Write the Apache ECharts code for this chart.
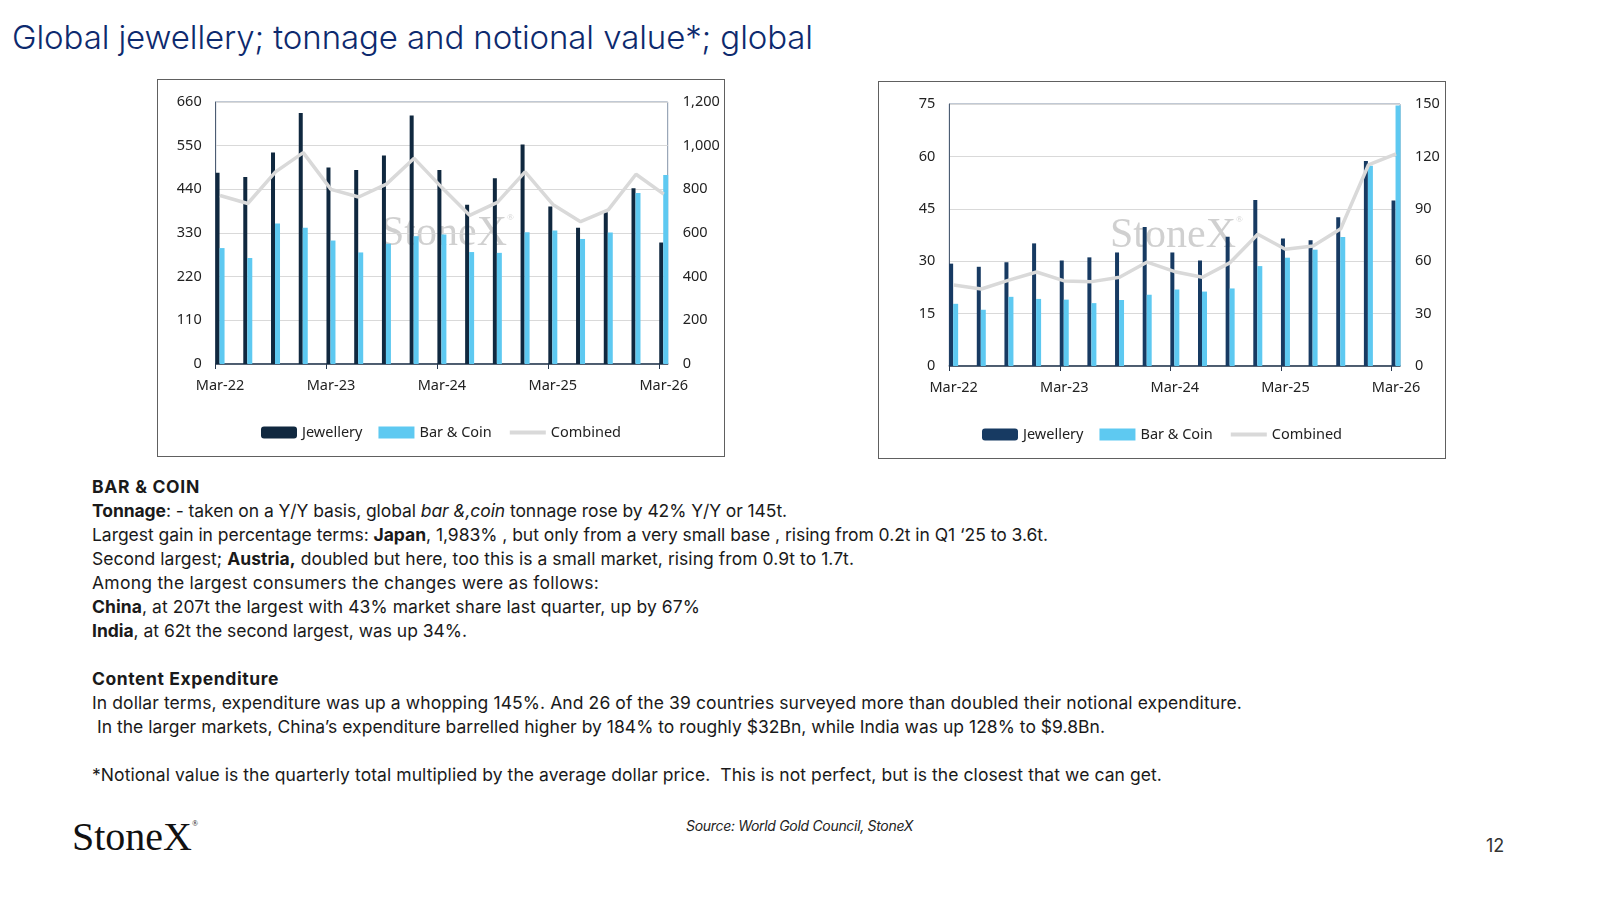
<!DOCTYPE html>
<html>
<head>
<meta charset="utf-8">
<script src="https://cdn.jsdelivr.net/npm/echarts@6/dist/echarts.min.js"></script>
<style>
  body { margin: 0; background: #fff; }
  #page { position: relative; width: 1600px; height: 900px; overflow: hidden; font-family: Inter, 'Noto Sans', sans-serif; color: #1a1a1a; }
  .title { position: absolute; left: 12px; top: 17px; font-size: 33px; font-weight: 300; color: #0d2a6e; white-space: nowrap; }
  .chart { position: absolute; width: 568px; height: 378px; }
  .frame { position: absolute; width: 568px; height: 378px; border: 1px solid #606060; box-sizing: border-box; pointer-events: none; }
  .notes { position: absolute; left: 92px; top: 475px; font-size: 17.5px; line-height: 24px; }
  .notes div { height: 24px; white-space: pre; }
  .logo { position: absolute; left: 72px; top: 813px; font-family: 'Liberation Serif', serif; font-size: 40px; color: #111; white-space: nowrap; }
  .logo sup { font-size: 8px; vertical-align: 24px; }
  .source { position: absolute; left: 686px; top: 817px; font-size: 14px; font-style: italic; color: #222; white-space: nowrap; }
  .pageno { position: absolute; left: 1486px; top: 835px; font-size: 18px; color: #333; }
</style>
</head>
<body>
<div id="page">
  <div class="title" data-w="801">Global jewellery; tonnage and notional value*; global</div>

  <div id="chartTon" class="chart" style="left:157px;top:79px"></div>
  <div class="frame" style="left:157px;top:79px"></div>
  <div id="chartVal" class="chart" style="left:878px;top:81px"></div>
  <div class="frame" style="left:878px;top:81px"></div>

  <div class="notes"><div data-w="108"><b>BAR &amp; COIN</b></div><div data-w="695"><b>Tonnage</b>: - taken on a Y/Y basis, global <i>bar &amp;,coin</i> tonnage rose by 42% Y/Y or 145t.</div><div data-w="956">Largest gain in percentage terms: <b>Japan</b>, 1,983% , but only from a very small base , rising from 0.2t in Q1 ‘25 to 3.6t.</div><div data-w="762">Second largest; <b>Austria,</b> doubled but here, too this is a small market, rising from 0.9t to 1.7t.</div><div data-w="507">Among the largest consumers the changes were as follows:</div><div data-w="608"><b>China</b>, at 207t the largest with 43% market share last quarter, up by 67%</div><div data-w="375"><b>India</b>, at 62t the second largest, was up 34%.</div><div></div><div data-w="187"><b>Content Expenditure</b></div><div data-w="1150">In dollar terms, expenditure was up a whopping 145%. And 26 of the 39 countries surveyed more than doubled their notional expenditure.</div><div data-w="1013"> In the larger markets, China’s expenditure barrelled higher by 184% to roughly $32Bn, while India was up 128% to $9.8Bn.</div><div></div><div data-w="1070">*Notional value is the quarterly total multiplied by the average dollar price.  This is not perfect, but is the closest that we can get.</div></div>

  <div class="logo">StoneX<sup>®</sup></div>
  <div class="source" data-w="227">Source: World Gold Council, StoneX</div>
  <div class="pageno">12</div>
</div>

<script>
// quarters on the x axis
const quarters = ['Mar-22', 'Jun-22', 'Sep-22', 'Dec-22', 'Mar-23', 'Jun-23', 'Sep-23', 'Dec-23',
  'Mar-24', 'Jun-24', 'Sep-24', 'Dec-24', 'Mar-25', 'Jun-25', 'Sep-25', 'Dec-25', 'Mar-26'];
// which quarters get a tick label
const labelQuarters = ['Mar-22', 'Mar-23', 'Mar-24', 'Mar-25', 'Mar-26'];

// tonnage (left chart), tonnes
const tonJewellery = [482, 471, 533, 632, 495, 489, 525, 626, 489, 401, 468, 553, 397, 343, 382, 443, 306];
const tonBarCoin = [292, 267, 354, 343, 311, 281, 303, 322, 326, 282, 280, 332, 336, 315, 331, 431, 476];
const tonCombined = [772, 735, 880, 968, 800, 765, 824, 942, 808, 681, 740, 880, 731, 652, 706, 869, 778];

// notional value (right chart), $bn
const valJewellery = [29.3, 28.4, 29.7, 35.1, 30.2, 31.1, 32.5, 39.8, 32.5, 30.2, 37.0, 47.5, 36.5, 36.0, 42.6, 58.7, 47.4];
const valBarCoin = [17.8, 16.1, 19.8, 19.2, 19.0, 18.0, 18.9, 20.4, 21.9, 21.3, 22.2, 28.6, 31.0, 33.3, 36.9, 57.3, 74.6];
const valCombined = [46.4, 44.1, 49.2, 53.8, 48.7, 48.3, 50.8, 59.5, 54.0, 50.8, 59.2, 75.4, 66.8, 68.7, 78.6, 115.1, 121.4];

const labelFont = { fontFamily: 'Noto Sans', fontSize: 14.5, color: '#222' };
const tickIdx = labelQuarters.map(q => quarters.indexOf(q));
const shift = 0.157; // bars sit just right of the tick (excel date axis)
const span = 16.3;

function buildOption(cfg) {
	const pairs = arr => arr.map((v, i) => [i, v]);
	return {
		animation: false,
		textStyle: { fontFamily: 'Noto Sans' },
		graphic: [{
			type: 'text',
			left: cfg.markX, top: 134,
			style: {
				text: '{a|StoneX}{r|®}',
				rich: {
					a: { font: '42px "Liberation Serif"', fill: 'rgba(150,150,150,0.45)' },
					r: { font: '9px "Liberation Serif"', fill: 'rgba(150,150,150,0.45)', verticalAlign: 'top', padding: [0, 0, 22, 0] }
				}
			}
		}],
		legend: {
			top: 341,
			left: 'center',
			itemWidth: 36,
			itemHeight: 12,
			itemGap: 16,
			textStyle: labelFont,
			data: [
				{ name: 'Jewellery', icon: 'roundRect' },
				{ name: 'Bar & Coin', icon: 'rect' },
				{ name: 'Combined', itemStyle: { opacity: 0 }, lineStyle: { width: 4, color: '#d9d9d9' } }
			]
		},
		grid: {
			left: cfg.gridLeft, top: 23, width: cfg.gridWidth, height: 262,
			show: true, borderColor: '#8393a8', borderWidth: 1
		},
		xAxis: [
			{
				// data axis: carries the bars, the line and the labels
				type: 'value', position: 'bottom',
				min: -shift, max: span - shift,
				axisLine: { show: false },
				axisTick: { show: false },
				splitLine: { show: false },
				axisLabel: Object.assign({
					margin: 14,
					customValues: tickIdx,
					formatter: v => quarters[v]
				}, labelFont)
			},
			{
				// tick axis: the line and tick marks
				type: 'value', position: 'bottom',
				min: 0, max: span,
				axisLine: { show: true, lineStyle: { color: '#26384f', width: 1.5 } },
				axisTick: { show: true, customValues: tickIdx, length: 5, lineStyle: { color: '#26384f' } },
				axisLabel: { show: false },
				splitLine: { show: false }
			}
		],
		yAxis: [
			{
				type: 'value', min: 0, max: cfg.leftMax, interval: cfg.leftStep,
				axisLine: { show: true, onZero: false, lineStyle: { color: '#4d5d73' } },
				axisTick: { show: false },
				splitLine: { lineStyle: { color: '#d9d9d9' } },
				axisLabel: Object.assign({ margin: 14 }, labelFont)
			},
			{
				type: 'value', min: 0, max: cfg.rightMax, interval: cfg.rightStep,
				axisLine: { show: false, onZero: false },
				axisTick: { show: false },
				splitLine: { show: false },
				axisLabel: Object.assign({ margin: 15 }, labelFont)
			}
		],
		series: [
			{
				name: 'Jewellery', type: 'bar', xAxisIndex: 0, yAxisIndex: 0,
				barWidth: 4, barGap: '0%',
				itemStyle: { color: cfg.dark },
				data: pairs(cfg.jewellery)
			},
			{
				name: 'Bar & Coin', type: 'bar', xAxisIndex: 0, yAxisIndex: 0,
				barWidth: 5,
				itemStyle: { color: '#5ec9f1' },
				data: pairs(cfg.barCoin)
			},
			{
				name: 'Combined', type: 'line', xAxisIndex: 0, yAxisIndex: 1,
				symbol: 'none', z: 5,
				lineStyle: { color: '#d9d9d9', width: 3.5 },
				itemStyle: { color: '#d9d9d9' },
				data: pairs(cfg.combined)
			}
		]
	};
}

const chartTon = echarts.init(document.getElementById('chartTon'));
chartTon.setOption(buildOption({
	gridLeft: 58.7, gridWidth: 452, markX: 224,
	leftMax: 660, leftStep: 110, rightMax: 1200, rightStep: 200,
	dark: '#10283f',
	jewellery: tonJewellery, barCoin: tonBarCoin, combined: tonCombined
}));

const chartVal = echarts.init(document.getElementById('chartVal'));
chartVal.setOption(buildOption({
	gridLeft: 71.3, gridWidth: 450.7, markX: 232,
	leftMax: 75, leftStep: 15, rightMax: 150, rightStep: 30,
	dark: '#173a62',
	jewellery: valJewellery, barCoin: valBarCoin, combined: valCombined
}));

// squeeze / stretch letter spacing so each text line spans the same width as the slide
document.querySelectorAll('[data-w]').forEach(el => {
	const block = getComputedStyle(el).display === 'block';
	el.style.display = 'inline-block';
	const target = +el.dataset.w;
	const n = el.textContent.length;
	const w = el.getBoundingClientRect().width;
	el.style.letterSpacing = ((target - w) / n).toFixed(3) + 'px';
	if (block && el.parentNode.classList.contains('notes')) el.style.display = 'block';
});
</script>
</body>
</html>
